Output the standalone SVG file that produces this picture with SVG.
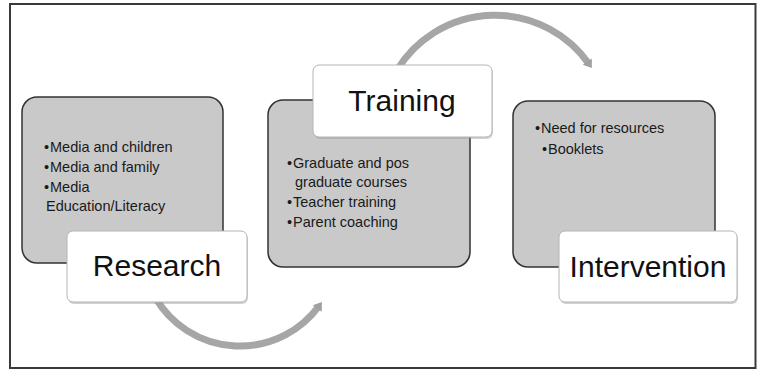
<svg xmlns="http://www.w3.org/2000/svg" width="757" height="370" viewBox="0 0 757 370">
<defs>
<style>
.panel{fill:#c9c9c9;stroke:#333;stroke-width:1.5}
.label{fill:#fff;stroke:#b5b5b5;stroke-width:1}
.shadow{fill:#9a9a9a;opacity:0.45}
.title{font-family:"Liberation Sans",Arial,sans-serif;font-size:30px;fill:#111;text-anchor:middle}
.item{font-family:"Liberation Sans",Arial,sans-serif;font-size:14.5px;fill:#1a1a1a}
.arc{fill:none;stroke:#a6a6a6;stroke-width:7;stroke-linecap:butt}
</style>
<marker id="tip" markerUnits="userSpaceOnUse" markerWidth="12" markerHeight="12" viewBox="0 0 10 12" refX="3" refY="6" orient="auto">
<path d="M0,0.5 L8,6 L0,11.5 Z" fill="#a0a0a0"/>
</marker>
</defs>
<rect x="0" y="0" width="757" height="370" fill="#fff"/>
<rect x="10" y="4" width="745.5" height="364" fill="#fff" stroke="#3a3a3a" stroke-width="2"/>

<g id="connectors">
<path class="arc" d="M155.6,298 A98,98 0 0 0 319,306" marker-end="url(#tip)"/>
<path class="arc" d="M397,70 A115,115 0 0 1 589,64" marker-end="url(#tip)"/>
</g>

<g id="research">
<rect class="panel" x="22" y="97" width="201" height="166" rx="15"/>
<text class="item" x="44" y="152">•<tspan x="50">Media and children</tspan></text>
<text class="item" x="44" y="172">•<tspan x="50">Media and family</tspan></text>
<text class="item" x="44" y="192">•<tspan x="50">Media</tspan></text>
<text class="item" x="46" y="211">Education/Literacy</text>
<rect class="shadow" x="68" y="233" width="180" height="71" rx="6"/>
<rect class="label" x="67" y="231" width="180" height="71" rx="6"/>
<text class="title" x="157" y="276">Research</text>
</g>

<g id="training">
<rect class="panel" x="268" y="100" width="202" height="167" rx="15"/>
<text class="item" x="287" y="168">•<tspan x="293">Graduate and pos</tspan></text>
<text class="item" x="295" y="187">graduate courses</text>
<text class="item" x="287" y="207">•<tspan x="293">Teacher training</tspan></text>
<text class="item" x="287" y="227">•<tspan x="293">Parent coaching</tspan></text>
<rect class="shadow" x="314" y="67" width="179" height="72" rx="6"/>
<rect class="label" x="313" y="65" width="179" height="72" rx="6"/>
<text class="title" x="402" y="111">Training</text>
</g>

<g id="intervention">
<rect class="panel" x="513" y="101" width="202" height="166" rx="15"/>
<text class="item" x="535" y="133">•<tspan x="541">Need for resources</tspan></text>
<text class="item" x="542" y="154">•<tspan x="548">Booklets</tspan></text>
<rect class="shadow" x="560" y="233" width="178" height="71" rx="6"/>
<rect class="label" x="559" y="231" width="178" height="71" rx="6"/>
<text class="title" x="648" y="277">Intervention</text>
</g>
</svg>
